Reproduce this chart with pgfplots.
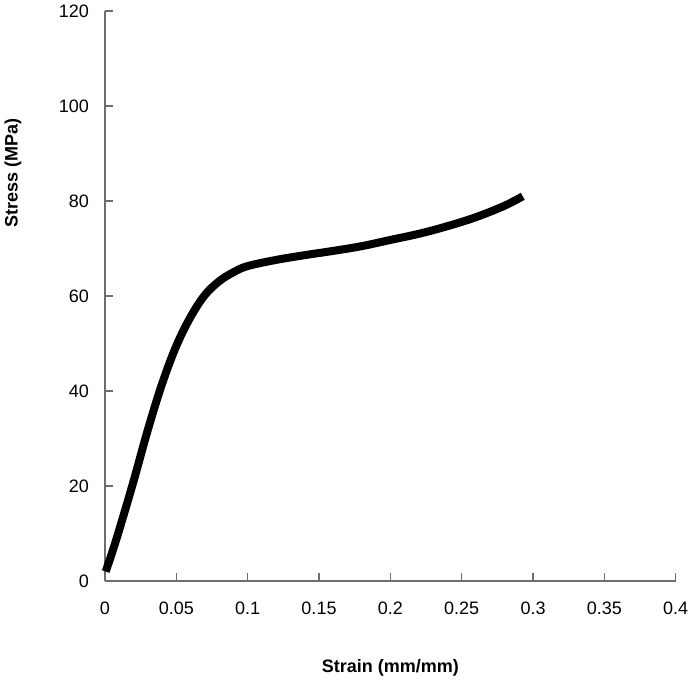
\documentclass[border=0pt]{standalone}
\usepackage{pgfplots}
\pgfplotsset{compat=1.18}
\usepackage{fontspec}
\setmainfont{Liberation Sans}
\definecolor{axgray}{RGB}{110,110,110}
\begin{document}
\begin{tikzpicture}
\begin{axis}[
  scale only axis,
  width=285.35pt, height=285pt,
  xmin=0, xmax=0.4, ymin=0, ymax=120,
  enlargelimits=false,
  axis lines=left,
  axis line style={axgray, line width=0.75pt, -},
  tick style={axgray, line width=0.75pt},
  tick align=inside,
  major tick length=4pt,
  xtick={0,0.05,0.1,0.15,0.2,0.25,0.3,0.35,0.4},
  xticklabels={0,0.05,0.1,0.15,0.2,0.25,0.3,0.35,0.4},
  ytick={0,20,40,60,80,100,120},
  yticklabels={0,20,40,60,80,100,120},
  tick label style={font=\fontsize{9}{10}\selectfont, text=black},
  xticklabel style={anchor=center, inner sep=0pt, yshift=-13.5pt},
  yticklabel style={anchor=east, inner sep=0pt, xshift=-7.85pt},
  xlabel={Strain (mm/mm)},
  ylabel={Stress (MPa)},
  label style={font=\bfseries\fontsize{9}{10}\selectfont},
  xlabel style={at={(axis description cs:0.5,-0.1526)}, anchor=center, inner sep=0pt},
  ylabel style={at={(axis description cs:-0.1612,0.716)}, anchor=center, inner sep=0pt},
  clip=false,
]
\addplot[black, line width=4pt, smooth, tension=0.6] coordinates {
(0.0005,2.0) (0.005,6.0) (0.01,10.8) (0.02,21.0) (0.03,31.8) (0.04,41.5)
(0.05,49.5) (0.06,55.6) (0.07,60.2) (0.08,63.1) (0.09,65.0) (0.10,66.3)
(0.12,67.6) (0.14,68.6) (0.16,69.5) (0.18,70.5) (0.20,71.8) (0.22,73.1)
(0.24,74.7) (0.26,76.6) (0.28,79.0) (0.2928,81.0)
};
\end{axis}
\pgfresetboundingbox
\path[use as bounding box] (-52.5pt,-50.5pt) rectangle (293pt,290.5pt);
\end{tikzpicture}
\end{document}
